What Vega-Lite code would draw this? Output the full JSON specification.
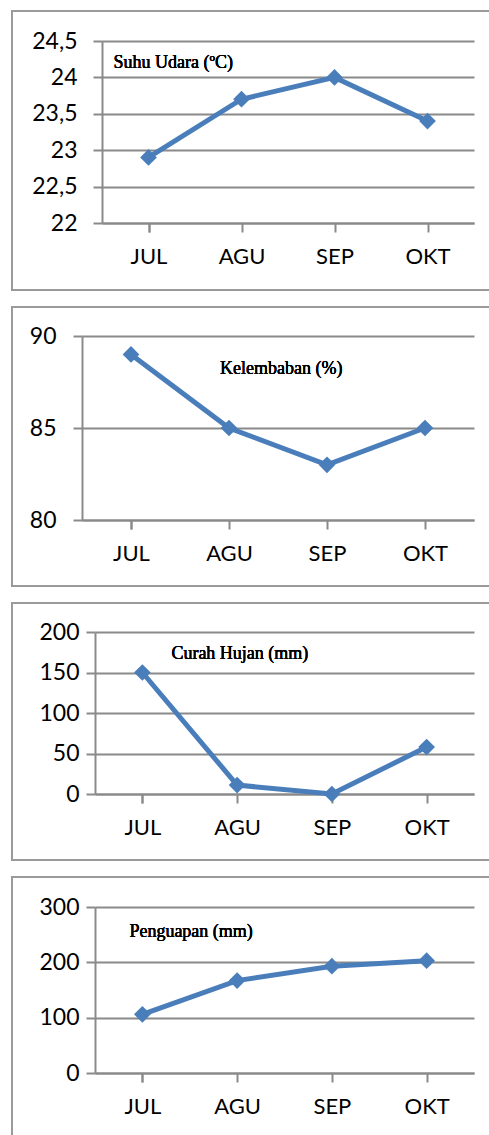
{
  "$schema": "https://vega.github.io/schema/vega-lite/v6.json",
  "padding": {"left": 11, "top": 10, "right": 0, "bottom": 0},
  "background": "white",
  "spacing": 15,
  "config": {
    "view": {"stroke": "#9a9a9a", "strokeWidth": 2},
    "axis": {
      "domainColor": "#8a8a8a", "domainWidth": 2,
      "tickColor": "#8a8a8a", "tickWidth": 2, "tickSize": 9,
      "gridColor": "#8a8a8a", "gridWidth": 2, "gridOpacity": 1,
      "labelFont": "Lato", "labelFontSize": 23, "labelColor": "#000000",
      "title": null
    },
    "axisX": {"labelAngle": 0, "tickBand": "extent", "grid": false, "labelPadding": 14, "labelFontSize": 22},
    "axisY": {"grid": true, "domain": true},
    "text": {"font": "Liberation Serif", "fontSize": 18, "fontWeight": "normal", "color": "#000000", "align": "left", "baseline": "middle"}
  },
  "vconcat": [
    {
      "width": 490, "height": 279,
      "data": {"values": [
        {"bulan": "JUL", "nilai": 22.9},
        {"bulan": "AGU", "nilai": 23.7},
        {"bulan": "SEP", "nilai": 24.0},
        {"bulan": "OKT", "nilai": 23.4}
      ]},
      "encoding": {
        "x": {"field": "bulan", "type": "nominal", "sort": null,
              "scale": {"range": [90, 462], "paddingInner": 0, "paddingOuter": 0},
              "axis": {"offset": -67}},
        "y": {"field": "nilai", "type": "quantitative",
              "scale": {"domain": [22, 24.5], "range": [212, 30], "nice": false, "zero": false},
              "axis": {"offset": -90, "values": [22, 22.5, 23, 23.5, 24, 24.5], "labelPadding": 16,
                       "format": ".1~f", "labelExpr": "replace(datum.label, '.', ',')"}}
      },
      "layer": [
        {"mark": {"type": "line", "color": "#4a7ebb", "strokeWidth": 5}},
        {"mark": {"type": "point", "shape": "diamond", "filled": true, "color": "#4a7ebb", "opacity": 1, "size": 280}},
        {"mark": {"type": "text", "text": "Suhu Udara (ºC)", "dx": -35},
         "encoding": {"x": {"datum": "JUL"}, "y": {"datum": 24.2}}}
      ]
    },
    {
      "width": 490, "height": 279,
      "data": {"values": [
        {"bulan": "JUL", "nilai": 89},
        {"bulan": "AGU", "nilai": 85},
        {"bulan": "SEP", "nilai": 83},
        {"bulan": "OKT", "nilai": 85}
      ]},
      "encoding": {
        "x": {"field": "bulan", "type": "nominal", "sort": null,
              "scale": {"range": [70, 462], "paddingInner": 0, "paddingOuter": 0},
              "axis": {"offset": -66}},
        "y": {"field": "nilai", "type": "quantitative",
              "scale": {"domain": [80, 90], "range": [213, 29], "nice": false, "zero": false},
              "axis": {"offset": -70, "values": [80, 85, 90], "labelPadding": 17}}
      },
      "layer": [
        {"mark": {"type": "line", "color": "#4a7ebb", "strokeWidth": 5}},
        {"mark": {"type": "point", "shape": "diamond", "filled": true, "color": "#4a7ebb", "opacity": 1, "size": 280}},
        {"mark": {"type": "text", "text": "Kelembaban (%)", "dx": 89},
         "encoding": {"x": {"datum": "JUL"}, "y": {"datum": 88.2}}}
      ]
    },
    {
      "width": 490, "height": 257,
      "data": {"values": [
        {"bulan": "JUL", "nilai": 150},
        {"bulan": "AGU", "nilai": 11},
        {"bulan": "SEP", "nilai": 0},
        {"bulan": "OKT", "nilai": 58}
      ]},
      "encoding": {
        "x": {"field": "bulan", "type": "nominal", "sort": null,
              "scale": {"range": [83, 462], "paddingInner": 0, "paddingOuter": 0},
              "axis": {"offset": -66}},
        "y": {"field": "nilai", "type": "quantitative",
              "scale": {"domain": [0, 200], "range": [191, 29], "nice": false, "zero": false},
              "axis": {"offset": -83, "values": [0, 50, 100, 150, 200], "labelPadding": 7}}
      },
      "layer": [
        {"mark": {"type": "line", "color": "#4a7ebb", "strokeWidth": 5}},
        {"mark": {"type": "point", "shape": "diamond", "filled": true, "color": "#4a7ebb", "opacity": 1, "size": 280}},
        {"mark": {"type": "text", "text": "Curah Hujan (mm)", "dx": 29},
         "encoding": {"x": {"datum": "JUL"}, "y": {"datum": 173}}}
      ]
    },
    {
      "width": 490, "height": 262,
      "data": {"values": [
        {"bulan": "JUL", "nilai": 106},
        {"bulan": "AGU", "nilai": 167},
        {"bulan": "SEP", "nilai": 193},
        {"bulan": "OKT", "nilai": 203}
      ]},
      "encoding": {
        "x": {"field": "bulan", "type": "nominal", "sort": null,
              "scale": {"range": [83, 462], "paddingInner": 0, "paddingOuter": 0},
              "axis": {"offset": -66}},
        "y": {"field": "nilai", "type": "quantitative",
              "scale": {"domain": [0, 300], "range": [196, 30], "nice": false, "zero": false},
              "axis": {"offset": -83, "values": [0, 100, 200, 300], "labelPadding": 7}}
      },
      "layer": [
        {"mark": {"type": "line", "color": "#4a7ebb", "strokeWidth": 5}},
        {"mark": {"type": "point", "shape": "diamond", "filled": true, "color": "#4a7ebb", "opacity": 1, "size": 280}},
        {"mark": {"type": "text", "text": "Penguapan (mm)", "dx": -13},
         "encoding": {"x": {"datum": "JUL"}, "y": {"datum": 255}}}
      ]
    }
  ]
}
